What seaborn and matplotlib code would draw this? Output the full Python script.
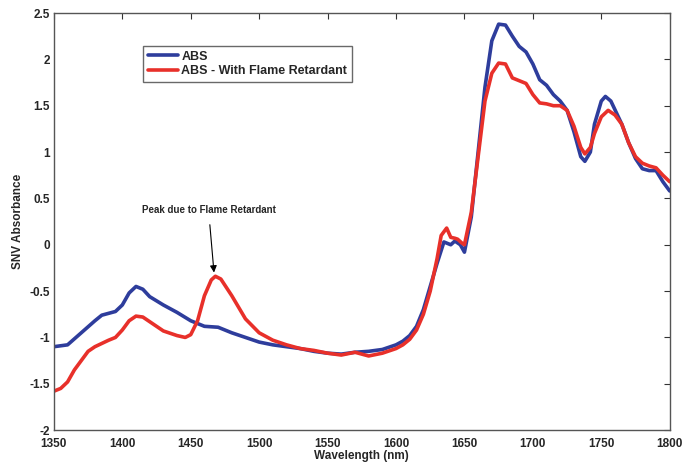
import numpy as np
import pandas as pd
import matplotlib
matplotlib.use("Agg")
import matplotlib.pyplot as plt
import seaborn as sns

# Spectra
abs_wl = [1350, 1360, 1370, 1380, 1385, 1395, 1400, 1405, 1410, 1415, 1420, 1430,
          1440, 1450, 1460, 1470, 1480, 1490, 1500, 1510, 1520, 1530, 1540, 1550,
          1560, 1570, 1580, 1590, 1600, 1605, 1610, 1615, 1620, 1625, 1630, 1635,
          1640, 1643, 1647, 1650, 1655, 1660, 1665, 1670, 1675, 1680, 1685, 1690,
          1695, 1700, 1705, 1710, 1715, 1720, 1725, 1730, 1735, 1738, 1742, 1745,
          1750, 1753, 1757, 1765, 1770, 1775, 1780, 1785, 1790, 1795, 1800]
abs_val = [-1.10, -1.08, -0.95, -0.82, -0.76, -0.72, -0.65, -0.52, -0.45, -0.48, -0.56, -0.65,
           -0.73, -0.82, -0.88, -0.89, -0.95, -1.00, -1.05, -1.08, -1.10, -1.12, -1.15, -1.17,
           -1.18, -1.16, -1.15, -1.13, -1.08, -1.04, -0.98, -0.88, -0.70, -0.45, -0.20, 0.03,
           0.00, 0.04, 0.00, -0.08, 0.30, 1.00, 1.70, 2.20, 2.38, 2.37, 2.25, 2.14,
           2.08, 1.95, 1.78, 1.72, 1.62, 1.55, 1.45, 1.22, 0.95, 0.90, 1.00, 1.30,
           1.55, 1.60, 1.55, 1.30, 1.10, 0.93, 0.82, 0.80, 0.80, 0.68, 0.58]

fr_wl = [1350, 1355, 1360, 1365, 1370, 1375, 1380, 1390, 1395, 1400, 1405, 1410,
         1415, 1420, 1430, 1440, 1446, 1450, 1455, 1460, 1465, 1468, 1472, 1480,
         1490, 1500, 1510, 1520, 1530, 1540, 1550, 1560, 1570, 1580, 1590, 1600,
         1605, 1610, 1615, 1620, 1625, 1630, 1633, 1637, 1640, 1643, 1645, 1648,
         1650, 1655, 1660, 1665, 1670, 1675, 1680, 1685, 1690, 1695, 1700, 1705,
         1710, 1715, 1720, 1725, 1730, 1735, 1738, 1742, 1745, 1750, 1755, 1760,
         1765, 1770, 1775, 1780, 1785, 1790, 1795, 1800]
fr_val = [-1.58, -1.55, -1.48, -1.35, -1.25, -1.15, -1.10, -1.03, -1.00, -0.92, -0.82, -0.77,
          -0.78, -0.83, -0.93, -0.98, -1.00, -0.97, -0.82, -0.55, -0.38, -0.34, -0.37, -0.55,
          -0.80, -0.95, -1.03, -1.08, -1.12, -1.14, -1.17, -1.19, -1.16, -1.20, -1.17, -1.12,
          -1.08, -1.02, -0.92, -0.75, -0.50, -0.15, 0.10, 0.18, 0.08, 0.07, 0.06, 0.02,
          0.00, 0.35, 0.95, 1.55, 1.85, 1.96, 1.95, 1.80, 1.77, 1.74, 1.62, 1.53,
          1.52, 1.50, 1.50, 1.45, 1.28, 1.05, 0.98, 1.05, 1.20, 1.38, 1.45, 1.40,
          1.30, 1.10, 0.95, 0.88, 0.85, 0.83, 0.75, 0.68]

labels = ["ABS", "ABS - With Flame Retardant"]
colors = ["#2e3d9c", "#e8302a"]

df = pd.concat([
    pd.DataFrame({"wl": abs_wl, "val": abs_val, "sample": labels[0]}),
    pd.DataFrame({"wl": fr_wl, "val": fr_val, "sample": labels[1]}),
])

sns.set_style("white")
plt.rcParams["font.family"] = ["Liberation Sans", "DejaVu Sans"]
plt.rcParams["font.weight"] = "bold"

fig, ax = plt.subplots(figsize=(6.82, 4.65), dpi=100)
fig.subplots_adjust(left=0.079, right=0.982, top=0.972, bottom=0.075)

sns.lineplot(data=df, x="wl", y="val", hue="sample", palette=colors,
             linewidth=2.6, ax=ax, sort=False, estimator=None)
for ln in ax.get_lines():
    ln.set_solid_joinstyle("round")
    ln.set_solid_capstyle("round")

ax.set_xlim(1350, 1800)
ax.set_ylim(-2, 2.5)
ax.set_xticks(np.arange(1350, 1801, 50))
ax.set_yticks(np.arange(-2, 2.51, 0.5))
ax.set_yticklabels(["-2", "-1.5", "-1", "-0.5", "0", "0.5", "1", "1.5", "2", "2.5"])
ax.tick_params(direction="in", top=True, right=True, length=4, width=0.8,
               labelsize=8.5, color="#333333")
ax.tick_params(axis="x", pad=6)
ax.tick_params(axis="y", pad=3)
for lab in ax.get_xticklabels() + ax.get_yticklabels():
    lab.set_fontweight("bold")
for s in ax.spines.values():
    s.set_color("#555555")
    s.set_linewidth(1.0)

ax.set_xlabel("Wavelength (nm)", fontsize=8.5, fontweight="bold", labelpad=0)
ax.set_ylabel("SNV Absorbance", fontsize=8.5, fontweight="bold", labelpad=4)

leg = ax.legend(loc="upper left", bbox_to_anchor=(0.135, 0.935), fontsize=9,
                frameon=True, fancybox=False, handlelength=2.4, handletextpad=0.3,
                borderpad=0.35, labelspacing=0.2, title=None)
leg.get_frame().set_edgecolor("#444444")
leg.get_frame().set_linewidth(1.0)
for t in leg.get_texts():
    t.set_fontweight("bold")

ax.annotate("Peak due to Flame Retardant", xy=(1467, -0.3), xytext=(1463, 0.38),
            ha="center", va="center", fontsize=7, fontweight="bold",
            arrowprops=dict(arrowstyle="-|>", color="black", lw=0.8,
                            shrinkA=5, shrinkB=0, mutation_scale=10))

plt.savefig("out.png", dpi=100)
